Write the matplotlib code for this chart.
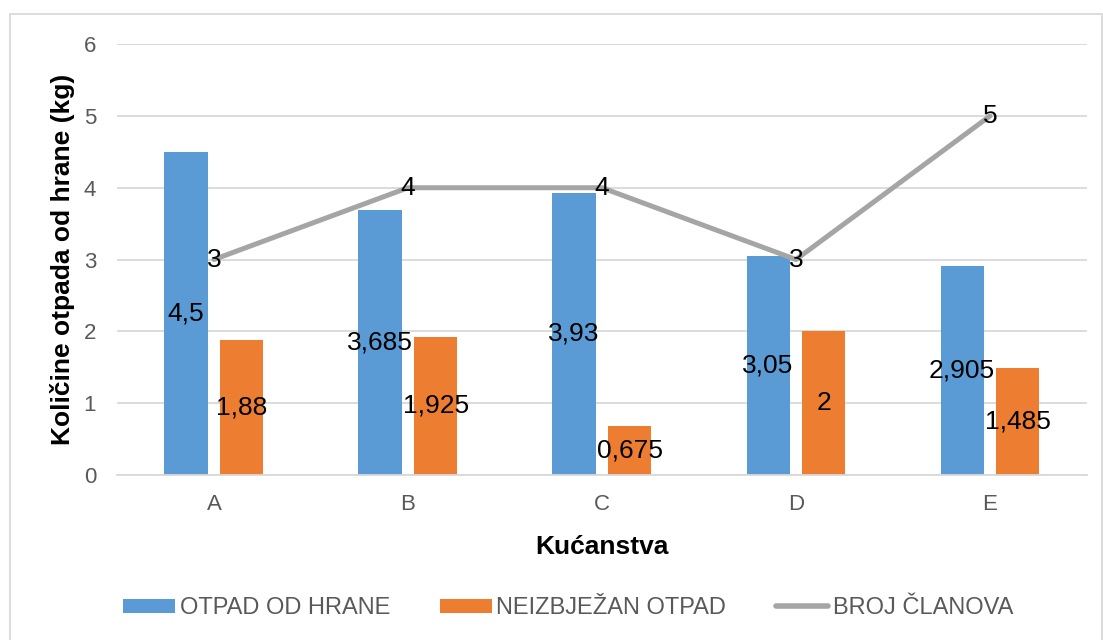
import numpy as np
import matplotlib.pyplot as plt
from matplotlib.patches import Rectangle
from matplotlib.lines import Line2D

plt.rcParams['font.family'] = ['Liberation Sans', 'DejaVu Sans']

# podaci
kucanstva = ["A", "B", "C", "D", "E"]
otpad_hrane = [4.5, 3.685, 3.93, 3.05, 2.905]
neizbjezan = [1.88, 1.925, 0.675, 2, 1.485]
broj_clanova = [3, 4, 4, 3, 5]

PLAVA = "#5B9BD5"
NARANCASTA = "#ED7D31"
SIVA = "#A5A5A5"


def fmt(v):
    # decimalni zarez
    s = ("%g" % v)
    return s.replace(".", ",")


fig = plt.figure(figsize=(11.03, 6.4), dpi=100)
ax = fig.add_axes([0.106, 0.258, 0.8795, 0.673])

x = np.arange(len(kucanstva))
sirina = 0.222
pomak = 0.144

b1 = ax.bar(x - pomak, otpad_hrane, sirina, color=PLAVA, zorder=2, label="OTPAD OD HRANE")
b2 = ax.bar(x + pomak, neizbjezan, sirina, color=NARANCASTA, zorder=2, label="NEIZBJEŽAN OTPAD")
ln, = ax.plot(x, broj_clanova, color=SIVA, lw=3.6, zorder=3, label="BROJ ČLANOVA",
              solid_capstyle="round", solid_joinstyle="round")

# oznake podataka
for xi, v in zip(x, otpad_hrane):
    ax.text(xi - pomak, v / 2, fmt(v), ha="center", va="center", fontsize=19, zorder=4)
for xi, v in zip(x, neizbjezan):
    ax.text(xi + pomak, v / 2, fmt(v), ha="center", va="center", fontsize=19, zorder=4)
for xi, v in zip(x, broj_clanova):
    ax.text(xi, v, fmt(v), ha="center", va="center", fontsize=19, zorder=4)

ax.set_xlim(-0.5, len(kucanstva) - 0.5)
ax.set_ylim(0, 6)
ax.set_yticks(range(0, 7))
ax.set_xticks(x)
ax.set_xticklabels(kucanstva)
ax.tick_params(axis="both", length=0, labelsize=16, labelcolor="#595959")
ax.tick_params(axis="y", pad=15)
ax.tick_params(axis="x", pad=14)
ax.grid(axis="y", color="#D9D9D9", lw=1.3, zorder=0)
for s in ["top", "right", "left"]:
    ax.spines[s].set_visible(False)
ax.spines["bottom"].set_color("#D9D9D9")
ax.spines["bottom"].set_linewidth(1.3)

ax.set_xlabel("Kućanstva", fontsize=19, fontweight="bold", labelpad=14)
ax.set_ylabel("Količine otpada od hrane (kg)", fontsize=19, fontweight="bold", labelpad=6)

# okvir grafikona
fig.patches.append(Rectangle((10 / 1103, -0.05), 1092 / 1103, 1.05 - 14 / 640,
                             transform=fig.transFigure, fill=False,
                             edgecolor="#D9D9D9", lw=1.3))

handles = [b1, b2, Line2D([0], [0], color=SIVA, lw=4, solid_capstyle="round")]
fig.legend(handles, ["OTPAD OD HRANE", "NEIZBJEŽAN OTPAD", "BROJ ČLANOVA"],
           loc="center", bbox_to_anchor=(0.515, 0.05), ncol=3, frameon=False,
           fontsize=17, labelcolor="#595959", handlelength=2.2, handleheight=0.55,
           handletextpad=0.2, columnspacing=2.1)

fig.savefig("out.png", dpi=100, facecolor="white")
